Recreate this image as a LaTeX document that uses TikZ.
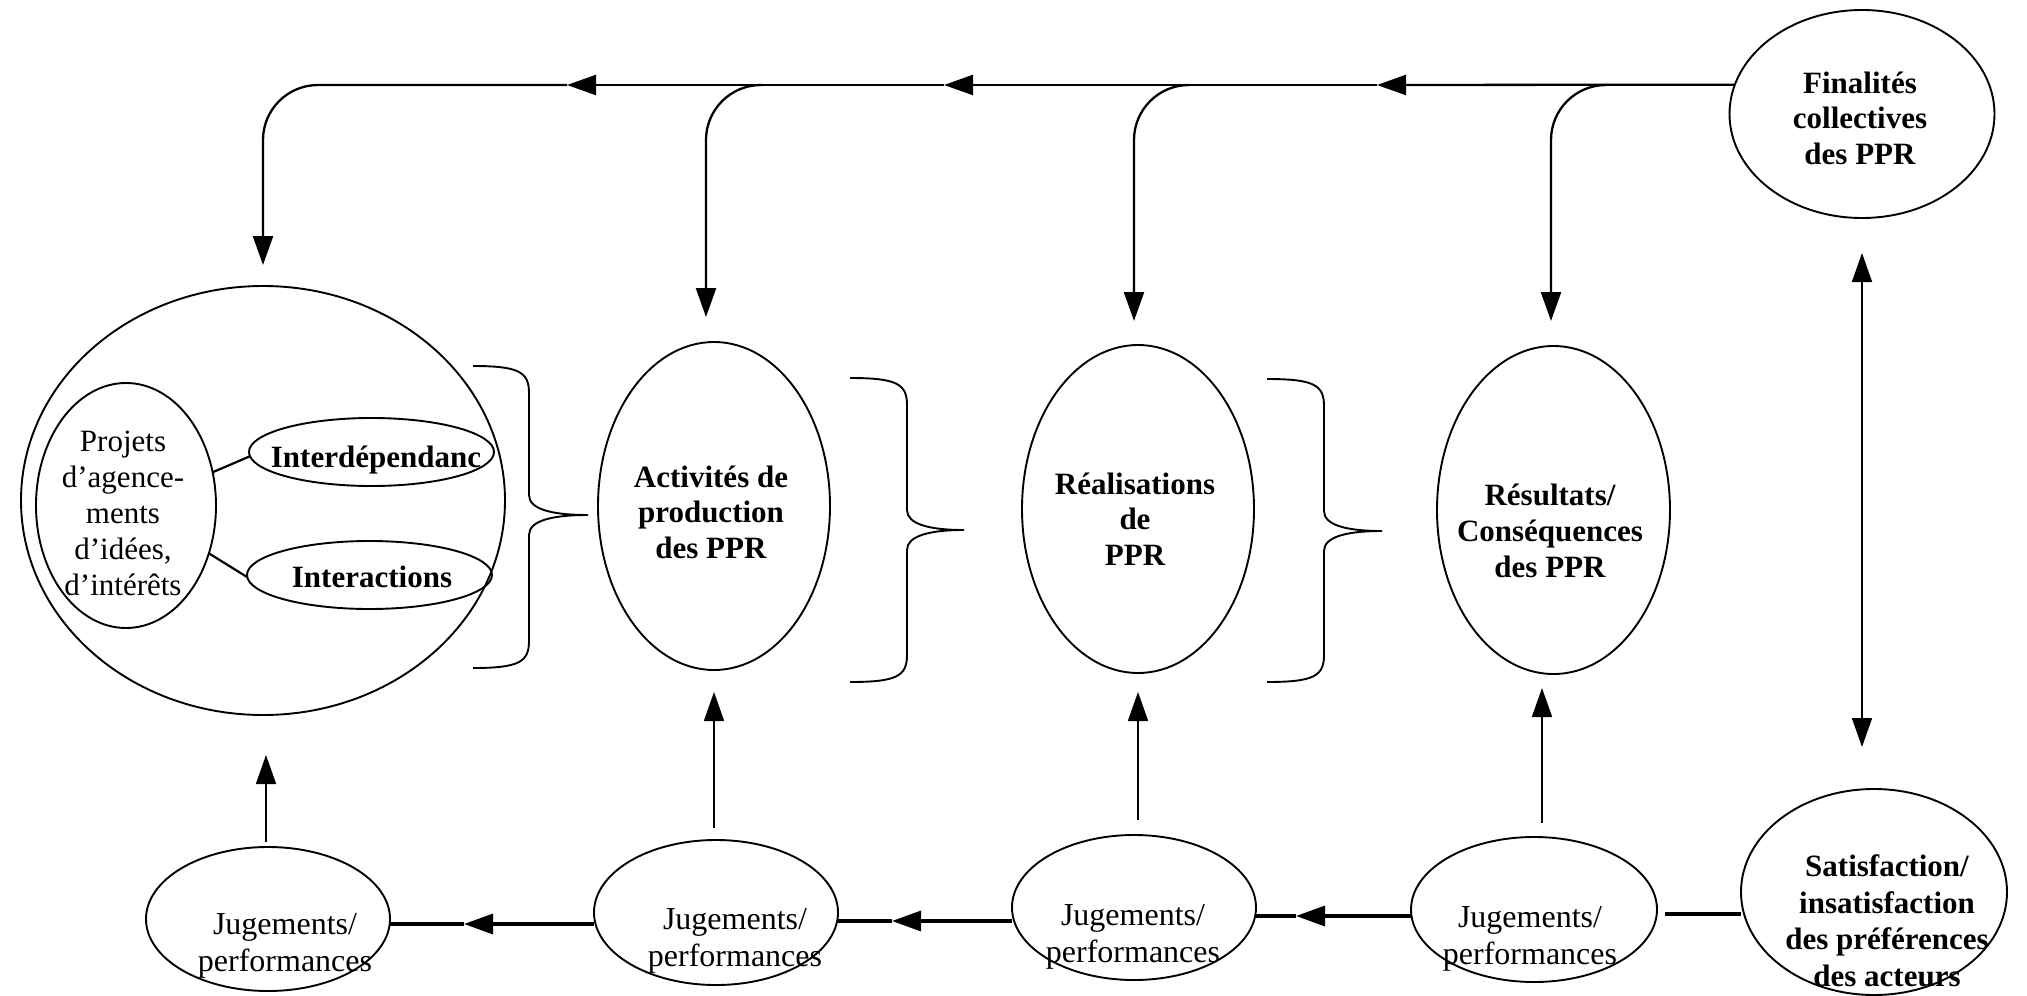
\documentclass[tikz,border=0pt]{standalone}
\usepackage{fontspec}
\setmainfont{Liberation Serif}
\usetikzlibrary{shapes.geometric,arrows.meta}

% curly brace: #1 x of the open ends, #2 x of the spine, #3 x of the point,
% #4 y top, #5 y of the point, #6 y bottom
\newcommand{\curlybrace}[6]{%
  \draw[bracestyle] (#1,#4) .. controls ({#2-10},#4) and (#2,{#4+6}) .. (#2,{#4+27})
    -- (#2,{#5-20}) .. controls (#2,{#5-6}) and ({#2+22},#5) .. (#3,#5)
    .. controls ({#2+22},#5) and (#2,{#5+6}) .. (#2,{#5+20})
    -- (#2,{#6-27}) .. controls (#2,{#6-6}) and ({#2-10},#6) .. (#1,#6);}

\begin{document}
\begin{tikzpicture}[x=1pt,y=-1pt,
  ell/.style={draw, ellipse, line width=1.9pt, inner sep=0pt, outer sep=0pt},
  boldtxt/.style={font=\fontsize{31}{35.5}\selectfont\bfseries, align=center, inner sep=0pt},
  regtxt/.style={font=\fontsize{32}{37}\selectfont, align=center, inner sep=0pt},
  arrowed/.style={-{Triangle[length=29pt,width=20pt]}},
  topln/.style={line width=2.3pt},
  upln/.style={line width=1.7pt},
  botln/.style={line width=3.4pt},
  bracestyle/.style={line width=1.9pt},
  linkln/.style={line width=2.2pt}]

\useasboundingbox (0,0) rectangle (2027,996);

% ---------- nodes ----------
\node[ell, minimum width=484pt, minimum height=429pt] (big) at (263,500.5) {};
\node[ell, minimum width=180pt, minimum height=245pt] (proj) at (126,505.5) {};
\node[ell, minimum width=245pt, minimum height=68pt] (interd) at (371.5,452) {};
\node[ell, minimum width=245pt, minimum height=68pt] (inter) at (369.5,575) {};

\node[ell, minimum width=232pt, minimum height=328pt] (act) at (714,506) {};
\node[ell, minimum width=232pt, minimum height=328pt] (real) at (1138,509) {};
\node[ell, minimum width=233pt, minimum height=328pt] (res) at (1553.5,510) {};

\node[ell, minimum width=265pt, minimum height=208pt] (fin) at (1862,114) {};
\node[ell, minimum width=266pt, minimum height=206pt] (sat) at (1874,892) {};

\node[ell, minimum width=244pt, minimum height=144pt] (j1) at (268,919) {};
\node[ell, minimum width=244pt, minimum height=145pt] (j2) at (716,912.5) {};
\node[ell, minimum width=244pt, minimum height=145pt] (j3) at (1134,907.5) {};
\node[ell, minimum width=246pt, minimum height=145pt] (j4) at (1534,909.5) {};

% ---------- texts ----------
\node[regtxt, font=\fontsize{31}{36}\selectfont] (projt) at (123,513)
  {Projets\\d’agence-\\ments\\d’idées,\\d’intérêts};
\node[boldtxt] (interdt) at (376,460) {Interdépendanc};
\node[boldtxt] (intert) at (372,577) {Interactions};
\node[boldtxt] (actt) at (711,512)
  {Activités de\\production\\des PPR};
\node[boldtxt] (realt) at (1135,519) {Réalisations\\de\\PPR};
\node[boldtxt, font=\fontsize{31}{36}\selectfont\bfseries] (rest) at (1550,531)
  {Résultats/\\Conséquences\\des PPR};
\node[boldtxt] (fint) at (1860,118)
  {Finalités\\collectives\\des PPR};
\node[boldtxt, font=\fontsize{31}{36.5}\selectfont\bfseries] (satt) at (1887,921)
  {Satisfaction/\\insatisfaction\\des préférences\\des acteurs};
\node[regtxt] (j1t) at (285,946) {Jugements/\\performances};
\node[regtxt] (j2t) at (735,941) {Jugements/\\performances};
\node[regtxt] (j3t) at (1133,937) {Jugements/\\performances};
\node[regtxt] (j4t) at (1530,939) {Jugements/\\performances};

% ---------- links inside the big circle ----------
\draw[linkln] (proj.21) -- (interd.182);
\draw[linkln] (proj.-30) -- (inter.181);

% ---------- braces ----------
\curlybrace{473}{529}{588}{366}{515}{668}
\curlybrace{850}{907}{964}{378}{530}{682}
\curlybrace{1267}{1324}{1382}{379}{531}{682}

% ---------- top feedback line ----------
\coordinate (h3) at (1377,85);
\coordinate (h2) at (944,85);
\coordinate (h1) at (567,85);
\coordinate (b3) at (1607,85);
\coordinate (b2) at (1190,85);
\coordinate (b1) at (762,85);

\draw[topln, arrowed] (fin.167) -- (h3);
\draw[topln, arrowed] (h3) -- (h2);
\draw[topln, arrowed] (h2) -- (h1);
\draw[topln, arrowed, rounded corners=55pt, shorten >=21pt] (h1) -| (big.north);
\draw[topln, arrowed, rounded corners=55pt, shorten >=25pt] (b1) -| ([xshift=-8pt]act.north);
\draw[topln, arrowed, rounded corners=55pt, shorten >=24pt] (b2) -| ([xshift=-4pt]real.north);
\draw[topln, arrowed, rounded corners=55pt, shorten >=25pt] (b3) -| ([xshift=-2.5pt]res.north);

% ---------- finalities <-> satisfaction ----------
\draw[upln, {Triangle[length=29pt,width=20pt]}-{Triangle[length=29pt,width=20pt]},
  shorten <=35pt, shorten >=42pt] (fin.south) -- (fin.south |- sat.north);

% ---------- upward arrows from the judgements ----------
\draw[upln, arrowed, shorten <=5pt, shorten >=40pt] ([xshift=-2pt]j1.north) -- ([xshift=-2pt]j1.north |- big.south);
\draw[upln, arrowed, shorten <=12pt, shorten >=22pt] ([xshift=-2pt]j2.north) -- ([xshift=-2pt]j2.north |- act.south);
\draw[upln, arrowed, shorten <=15pt, shorten >=19pt] ([xshift=4pt]j3.north) -- ([xshift=4pt]j3.north |- real.south);
\draw[upln, arrowed, shorten <=14pt, shorten >=14pt] ([xshift=8pt]j4.north) -- ([xshift=8pt]j4.north |- res.south);

% ---------- bottom chain of judgements ----------
\coordinate (m1) at (464,924);
\coordinate (m2) at (892,921);
\coordinate (m3) at (1296,916);
\coordinate (m4) at (1700,914);

\draw[botln, arrowed] (m1 -| j2.west) -- (m1);
\draw[botln] (m1) -- (m1 -| j1.east);
\draw[botln, arrowed] (m2 -| j3.west) -- (m2);
\draw[botln] (m2) -- (m2 -| j2.east);
\draw[botln, arrowed] (m3 -| j4.west) -- (m3);
\draw[botln] (m3) -- (m3 -| j3.east);
\draw[botln, shorten >=8pt] (m4 -| sat.west) -- (m4 -| j4.east);

\end{tikzpicture}
\end{document}
